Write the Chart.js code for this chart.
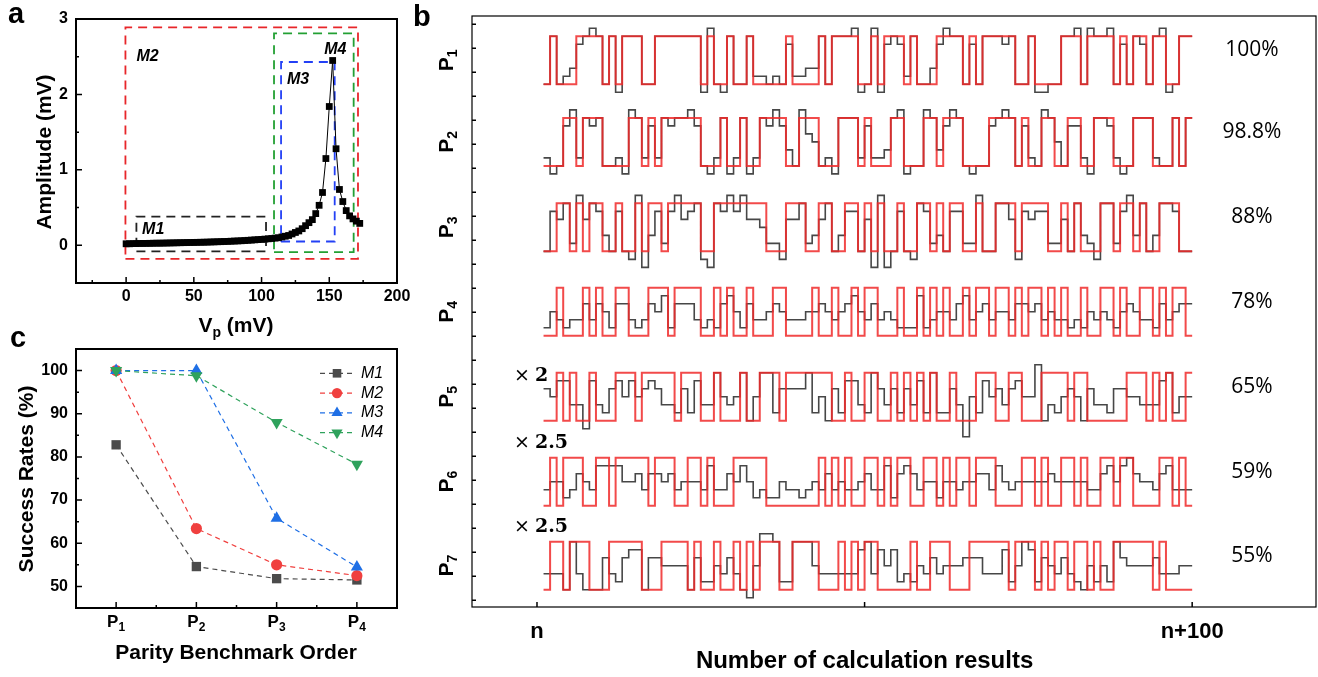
<!DOCTYPE html>
<html><head><meta charset="utf-8">
<script src="https://cdn.jsdelivr.net/npm/chart.js@4.4.0/dist/chart.umd.min.js"></script>
<style>
body{margin:0;background:#fff;width:1318px;height:677px;overflow:hidden;position:relative}
canvas{position:absolute}
#ca{left:0px;top:0px}
#cc{left:0px;top:330px}
#cb{left:400px;top:0px}
</style></head><body>
<canvas id="ca" width="420" height="345"></canvas>
<canvas id="cc" width="420" height="347"></canvas>
<canvas id="cb" width="918" height="677"></canvas>
<script>
// ---- panel a : amplitude vs Vp
const vp = [0,2.5,5,7.5,10,12.5,15,17.5,20,22.5,25,27.5,30,32.5,35,37.5,40,42.5,45,47.5,50,52.5,55,57.5,60,62.5,65,67.5,70,72.5,75,77.5,80,82.5,85,87.5,90,92.5,95,97.5,100,102.5,105,107.5,110,
  112.5,115,117.5,120,122.5,125,127.5,130,132.5,135,137.5,140,142.5,145,147.5,150,152.5,155,157.5,160,162.5,165,167.5,170,172.5];
const amp = [0.02,0.02,0.022,0.022,0.024,0.025,0.025,0.026,0.027,0.028,0.028,0.029,0.03,0.031,0.032,0.033,0.034,0.035,0.036,0.037,0.038,0.039,0.04,0.041,0.042,0.044,0.045,0.047,0.048,0.05,0.052,0.054,0.056,0.058,0.06,0.063,0.066,0.069,0.072,0.075,0.078,0.082,0.086,0.09,0.095,
  0.10,0.11,0.12,0.13,0.15,0.17,0.19,0.22,0.26,0.30,0.34,0.42,0.53,0.70,1.15,1.84,2.45,1.28,0.74,0.58,0.46,0.39,0.35,0.32,0.29];
const regions = ['M1','M2','M3','M4'];
const regionX = [[7.6,103.3],[-0.5,171.2],[114.4,154],[109.2,168]];
const regionY = [[-0.08,0.38],[-0.18,2.89],[0.05,2.43],[-0.09,2.81]];
const regionColor = ['#222','#e8262a','#2340f5','#22a033'];

// ---- panel c : success rates
const orders = ['1','2','3','4'];
const rateM1 = [82.8,54.6,51.8,51.5];
const rateM2 = [100,63.4,55.0,52.5];
const rateM3 = [100,100,65.8,54.5];
const rateM4 = [100,98.8,88.0,78.3];

// ---- panel b : 99 results per parity order (target = red, measured = gray, 2 = low, 8 = high)
const rows = ['1','2','3','4','5','6','7'];
const rowRate = ['100%','98.8%','88%','78%','65%','59%','55%'];
const rowGain = ['','','','','2','2.5','2.5'];
const target = [
 "0 1 000 1111 0 1 0 111 00 1111111 0 1 00 1 00 1 00000 1 0000 1 0 1111 00 1 0 111 0 1 000 1111 0 1 0 11111 00 1 0000 111 0 1111 0 1 0 11 0 11 00 11",
 "000 11 0 111 0000 11 0 1 0 111111 000 1 00 1 00 1111 00 111 000 111  0 1 000 11 000 11 0 111 0000 1111 0 1 00 11 00 11 00 111 000 111 000 1 0 1",
 "00 11 0 1 0 11 00 1 00 1 0 11 0 11111 00 11111111 000 111 00 11 00 11  0 1 0 1 00 1 00 11 0 1 0 11 00 1 00 111 0 1111 00 1 0 1 000 11 0 11 0 1 00 111 00",
 "00 1 000 1 0 1 00 11 000 111 0 1111 00 1 0 1 00 1 000 11 0000 1 00 1 00 1  0 11 000 1 00 1 0 1 0 1 00 1 0 11 0 11 0 1 0 11 0 1 0 1 00 1 00 11 0 1 00 11 0 1 0 11 0",
 "00 1 0 1 00 1 000 111 0 11111 0 111 00 1 000 1 00 111 0 1111111 00  1 00 11 00 1 0 1 0 1 0 1 00 1 000 111 00 11 000 1111 0 11 000000 111 0 1 0 1 00 1",
 "0 1 0 111 00 11 0 11111 0 111 00 11 0 1 000 11111 00000000 1 0 1 0 1 0  0 11 0 1 0 11 00 11 0 1 0 11 0 111 0000 11 0 1 00 11 0 1 00 11 0 11 0000 11 0 1 0",
 "0 11 0 111 000 11111 000 1111 0 1 00 1 00 1 0 1 0 111 00 1111 000 1 0 1  0 11 00000 1 00 111 000 111111 0 111 0 1 0 11 0 11 0 1 00 111111 0 1 0000"
];
const measured = [
 "2823478982 8188822888 8888192182 2833232733 44828889 1291787382 2479882728 8878228112 2889298892 7287289128 8",
 "3127938782 2319837387 8897213813 8138797429 65231888 3733489122 9847982122 7898273298 5277318873 1288832282 8",
 "2768396874 2721904737 9678108797 9665331668 34682477 2609027218 7342773392 2886176773 3628431883 7948248872 2",
 "3543446465 3664346573 6664343675 3644565444 55654567 5464543337 3455467456 4554665645 4434354543 5654436456 6",
 "6577441743 6757567644 3637448545 8258836666 83526377 4386463647 3833640537 5646755924 3565264436 6554447835 5",
 "4553465477 7755646656 4555474465 7534335443 45464544 5644736764 5535545566 4754555556 5555544675 7865546744 4",
 "4442842226 4367726655 5526335464 2159983388 85444444 7847573435 4645556664 4473587365 4643253538 6555564445 5"
];
const rowLow = [0,-1.70,-3.48,-5.24,-7.01,-8.78,-10.53];

const AR = 'Liberation Sans, Arial, sans-serif';
const parse = s => s.replace(/\s+/g,'').split('').map(Number);

function txt(ctx, s, x, y, font, align, base, rot){
  ctx.save(); ctx.translate(x,y); if(rot) ctx.rotate(rot);
  ctx.font = font; ctx.fillStyle = '#000'; ctx.textAlign = align||'center'; ctx.textBaseline = base||'middle';
  ctx.fillText(s,0,0); ctx.restore();
}
// composite text with subscripts, centred on x, y = baseline
function parts(ctx, list, x, y, rot){
  ctx.save(); ctx.translate(x,y); if(rot) ctx.rotate(rot);
  ctx.fillStyle='#000'; ctx.textAlign='left'; ctx.textBaseline='alphabetic';
  let w=0; list.forEach(p=>{ctx.font=p[1]; w+=ctx.measureText(p[0]).width;});
  let cx=-w/2;
  list.forEach(p=>{ctx.font=p[1]; ctx.fillText(p[0],cx,p[2]); cx+=ctx.measureText(p[0]).width;});
  ctx.restore();
}
function frame(ctx, ch, xMaj, xMin, yMaj, yMin){
  const {left,right,top,bottom} = ch.chartArea, sx = ch.scales.x, sy = ch.scales.y;
  ctx.save(); ctx.strokeStyle='#000'; ctx.lineWidth=1.5; ctx.beginPath();
  xMaj.forEach(v=>{const p=sx.getPixelForValue(v); ctx.moveTo(p,bottom); ctx.lineTo(p,bottom-6);});
  xMin.forEach(v=>{const p=sx.getPixelForValue(v); ctx.moveTo(p,bottom); ctx.lineTo(p,bottom-3);});
  yMaj.forEach(v=>{const p=sy.getPixelForValue(v); ctx.moveTo(left,p); ctx.lineTo(left+6,p);});
  yMin.forEach(v=>{const p=sy.getPixelForValue(v); ctx.moveTo(left,p); ctx.lineTo(left+3,p);});
  ctx.stroke();
  ctx.lineWidth=2; ctx.strokeRect(left,top,right-left,bottom-top);
  ctx.restore();
}
const base = (pad) => ({responsive:false, animation:false, events:[],
  layout:{padding:pad}, plugins:{legend:{display:false}, tooltip:{enabled:false}},
  elements:{line:{tension:0}}});

// ================= panel a
const optA = base({left:76,top:19,right:23,bottom:62});
optA.scales = {x:{type:'linear',min:-37,max:200,display:false}, y:{type:'linear',min:-0.5,max:3,display:false}};
new Chart(document.getElementById('ca'), {
  type:'line',
  data:{datasets:[
    {data: vp.map((x,i)=>({x, y:amp[i]})), borderColor:'#000', borderWidth:1, pointStyle:'rect',
     pointRadius:4.8, pointBackgroundColor:'#000', pointBorderWidth:0, order:0},
    ...regions.map((r,i)=>({data:[{x:regionX[i][0],y:regionY[i][0]},{x:regionX[i][1],y:regionY[i][0]},{x:regionX[i][1],y:regionY[i][1]},{x:regionX[i][0],y:regionY[i][1]},{x:regionX[i][0],y:regionY[i][0]}],
      borderColor:regionColor[i], borderWidth:1.8, borderDash:[9,6], pointRadius:0, order:1}))
  ]},
  options:optA,
  plugins:[{id:'decoA', afterDraw(ch){
    const ctx=ch.ctx, sx=ch.scales.x, sy=ch.scales.y, {left,bottom}=ch.chartArea;
    frame(ctx, ch, [0,50,100,150,200], [-25,25,75,125,175], [0,1,2,3], [0.5,1.5,2.5]);
    const f='bold 16px '+AR;
    [0,50,100,150,200].forEach(v=>txt(ctx,String(v),sx.getPixelForValue(v),bottom+14,f));
    [0,1,2,3].forEach(v=>txt(ctx,String(v),left-8,sy.getPixelForValue(v),f,'right'));
    txt(ctx,'Amplitude (mV)',45,152,'bold 21px '+AR,'center','middle',-Math.PI/2);
    parts(ctx,[['V','bold 21px '+AR,0],['p','bold 14px '+AR,5],[' (mV)','bold 21px '+AR,0]],236,332);
    const labX=[11.8,7.6,118.8,146.3], labY=[0.21,2.5,2.2,2.59];
    regions.forEach((r,i)=>txt(ctx,r,sx.getPixelForValue(labX[i]),sy.getPixelForValue(labY[i]),'italic bold 16px '+AR,'left'));
    txt(ctx,'a',8,23,'bold 29px '+AR,'left','alphabetic');
  }}]
});

// ================= panel c
const cColor = ['#4b4b4b','#f0403f','#1f6fe5','#2fa25c'];
const cStyle = ['rect','circle','triangle','triangle'];
const cRot = [0,0,0,180];
const cRad = [6.6,5.6,7,7];
const cSeries = [rateM1,rateM2,rateM3,rateM4];
const optC = base({left:76,top:19,right:23,bottom:69});
optC.scales = {x:{type:'linear',min:0.5,max:4.5,display:false}, y:{type:'linear',min:45,max:105,display:false}};
new Chart(document.getElementById('cc'), {
  type:'line',
  data:{datasets: cSeries.map((s,i)=>({data:s.map((v,k)=>({x:k+1,y:v})), borderColor:cColor[i], borderWidth:1.2, borderDash:[5,4],
    pointStyle:cStyle[i], rotation:cRot[i], pointRadius:cRad[i], pointBackgroundColor:cColor[i], pointBorderWidth:0, order:3-i}))},
  options:optC,
  plugins:[{id:'decoC', afterDraw(ch){
    const ctx=ch.ctx, sx=ch.scales.x, sy=ch.scales.y, {left,bottom}=ch.chartArea;
    frame(ctx, ch, [1,2,3,4], [1.5,2.5,3.5], [50,60,70,80,90,100], [55,65,75,85,95]);
    const f='bold 16px '+AR;
    [50,60,70,80,90,100].forEach(v=>txt(ctx,String(v),left-8,sy.getPixelForValue(v),f,'right'));
    orders.forEach((o,k)=>parts(ctx,[['P','bold 17px '+AR,0],[o,'bold 12px '+AR,4]],sx.getPixelForValue(k+1),297));
    txt(ctx,'Success Rates (%)',27,149,'bold 21px '+AR,'center','middle',-Math.PI/2);
    txt(ctx,'Parity Benchmark Order',236,323,'bold 21px '+AR);
    // legend
    ['M1','M2','M3','M4'].forEach((m,i)=>{
      const y=43.3+i*19.8;
      ctx.save(); ctx.strokeStyle=cColor[i]; ctx.lineWidth=1.2; ctx.setLineDash([5,4]);
      ctx.beginPath(); ctx.moveTo(320,y); ctx.lineTo(354,y); ctx.stroke(); ctx.setLineDash([]);
      ctx.fillStyle=cColor[i];
      Chart.helpers.drawPoint(ctx,{pointStyle:cStyle[i],radius:cRad[i]*0.92,rotation:cRot[i],borderWidth:0},337,y);
      ctx.restore();
      txt(ctx,m,361,y,'italic 16px '+AR,'left');
    });
    txt(ctx,'c',10,17,'bold 29px '+AR,'left','alphabetic');
  }}]
});

// ================= panel b
const bSets = [];
rows.forEach((r,i)=>{
  const pts = (arr,f)=>{const p=arr.map((v,k)=>({x:k+1,y:rowLow[i]+f(v)})); p.push({x:arr.length+1,y:p[p.length-1].y}); return p;};
  bSets.push({data:pts(parse(target[i]),v=>v), borderColor:'rgba(240,42,42,0.85)', borderWidth:2, stepped:true, pointRadius:0, order:0});
  bSets.push({data:pts(parse(measured[i]),v=>(v-2)/6), borderColor:'#474747', borderWidth:1.6, stepped:true, pointRadius:0, order:1});
});
const optB = base({left:72,top:16,right:2,bottom:70});
optB.scales = {x:{type:'linear',min:-9.92,max:118.9,display:false}, y:{type:'linear',min:-10.89,max:1.423,display:false}};
new Chart(document.getElementById('cb'), {
  type:'line',
  data:{datasets:bSets},
  options:optB,
  plugins:[{id:'decoB', afterDraw(ch){
    const ctx=ch.ctx, sx=ch.scales.x, sy=ch.scales.y, {left,right,top,bottom}=ch.chartArea;
    ctx.save(); ctx.strokeStyle='#000'; ctx.lineWidth=1.5; ctx.beginPath();
    [0,50,100].forEach(v=>{const p=sx.getPixelForValue(v); ctx.moveTo(p,bottom); ctx.lineTo(p,bottom-5);});
    for(let v=1.25; v>-10.8; v-=0.5){const p=sy.getPixelForValue(v); ctx.moveTo(left,p); ctx.lineTo(left+4,p);}
    ctx.stroke(); ctx.lineWidth=1.2; ctx.strokeRect(left,top,right-left,bottom-top); ctx.restore();
    const f='bold 22px '+AR;
    txt(ctx,'n',sx.getPixelForValue(0),632,f);
    txt(ctx,'n+100',sx.getPixelForValue(100),632,f);
    txt(ctx,'Number of calculation results',sx.getPixelForValue(50),661,'bold 24px '+AR);
    rows.forEach((r,i)=>{
      const cy=sy.getPixelForValue(rowLow[i]+0.5);
      parts(ctx,[['P','bold 21px '+AR,0],[r,'bold 14px '+AR,4]],53,cy,-Math.PI/2);
      txt(ctx,rowRate[i],852,cy-10,'21px Open Sans','center');
      if(rowGain[i]){
        const by=sy.getPixelForValue(rowLow[i]+1)+ (i===4?8.5:-9.5);
        txt(ctx,'\u00d7',122,by,'19px DejaVu Serif','center','alphabetic');
        txt(ctx,rowGain[i],135,by,'bold 19px DejaVu Serif','left','alphabetic');
      }
    });
    txt(ctx,'b',13,26,'bold 29px '+AR,'left','alphabetic');
  }}]
});
</script>
</body></html>
